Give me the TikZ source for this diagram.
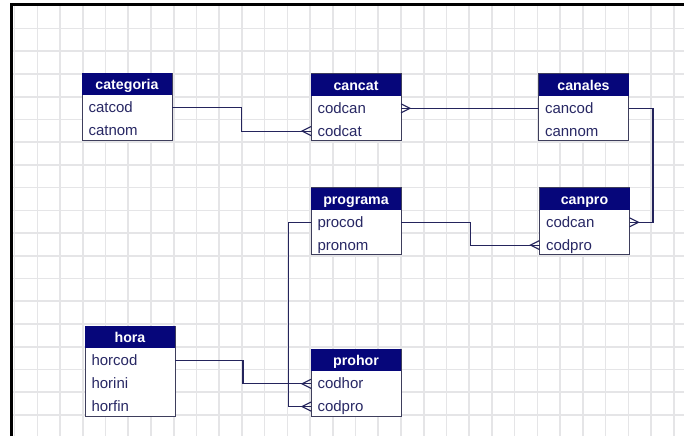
\documentclass[tikz,border=0pt]{standalone}
\usepackage{fontspec}
\setmainfont{Liberation Sans}
\usetikzlibrary{calc}

\definecolor{hdrblue}{RGB}{6,6,122}
\definecolor{framegray}{RGB}{62,62,92}
\definecolor{rowink}{RGB}{40,40,100}
\definecolor{linkblue}{RGB}{36,36,92}
\definecolor{gridgray}{RGB}{229,229,231}

% one entity table: #1 name, #2 top-left corner, #3 title, #4 number of fields, #5 fields
\newcommand\ertable[5]{%
  \node[tablebox, minimum height={22pt+22.7pt*#4}] (#1) at (#2) {};
  \node[tablehead] (#1-head) at (#1.north west) {#3};
  \foreach \fld [count=\i from 0] in {#5}
    \node[rowcell] (#1-\fld) at ($(#1-head.south west)+(0,1.5+22.7*\i)$) {\fld};
}

\begin{document}
\begin{tikzpicture}[x=1pt, y=-1pt,
  gridline/.style={draw=gridgray, line width=1.6pt},
  tablebox/.style={draw=framegray, fill=white, line width=0.9pt,
    minimum width=90pt, inner sep=0pt, outer sep=0pt, anchor=north west},
  tablehead/.style={fill=hdrblue, text=white,
    font=\fontsize{14.2}{16}\selectfont\bfseries,
    minimum width=90pt, minimum height=22pt, inner sep=0pt, outer sep=0pt,
    text height=14pt, text depth=2.8pt, anchor=north west},
  rowcell/.style={text=rowink, font=\fontsize{15}{17}\selectfont,
    minimum width=90pt, text width=77pt, inner xsep=6.5pt, inner ysep=0pt,
    outer sep=0pt, minimum height=22.7pt, align=left,
    text height=13pt, text depth=3pt, anchor=north west},
  link/.style={draw=linkblue, line width=1.1pt},
  crow/.pic={\draw[link] (0,-4.5) -- (9,0) -- (0,4.5);}
]
\useasboundingbox (0,0) rectangle (684,436);
\fill[white] (0,0) rectangle (684,436);

% background grid
\foreach \k in {0,...,29}
  \draw[gridline] (14.6+22.73*\k,5) -- (14.6+22.73*\k,436);
\foreach \k in {1,...,18}
  \draw[gridline] (11,5.8+22.73*\k) -- (684,5.8+22.73*\k);

% window edge
\draw[black, line width=2.6pt] (11.3,436) -- (11.3,4.6) -- (684,4.6);

% tables
\ertable{categoria}{82,73}{categoria}{2}{catcod,catnom}
\ertable{cancat}{311,73.5}{cancat}{2}{codcan,codcat}
\ertable{canales}{538.5,73.5}{canales}{2}{cancod,cannom}
\ertable{programa}{311,187.5}{programa}{2}{procod,pronom}
\ertable{canpro}{539.5,187.5}{canpro}{2}{codcan,codpro}
\ertable{hora}{85,326}{hora}{3}{horcod,horini,horfin}
\ertable{prohor}{311,349}{prohor}{2}{codhor,codpro}

% relationships
\draw[link] (categoria-catcod.east)
  -| ($(categoria-catcod.east)!.5!(cancat-codcat.west)$)
  |- (cancat-codcat.west);
\pic[rotate=180] at (cancat-codcat.west) {crow};

\draw[link] (canales-cancod.west) -- (cancat-codcan.east);
\pic at (cancat-codcan.east) {crow};

\draw[link] (canales-cancod.east) -- ++(24.5,0) |- (canpro-codcan.east);
\pic at (canpro-codcan.east) {crow};

\draw[link] (programa-procod.east)
  -| ($(programa-procod.east)!.5!(canpro-codpro.west)$)
  |- (canpro-codpro.west);
\pic[rotate=180] at (canpro-codpro.west) {crow};

\draw[link] (programa-procod.west) -- ++(-22.7,0) |- (prohor-codpro.west);
\pic[rotate=180] at (prohor-codpro.west) {crow};

\draw[link] (hora-horcod.east)
  -| ($(hora-horcod.east)!.5!(prohor-codhor.west)$)
  |- (prohor-codhor.west);
\pic[rotate=180] at (prohor-codhor.west) {crow};
\end{tikzpicture}
\end{document}
